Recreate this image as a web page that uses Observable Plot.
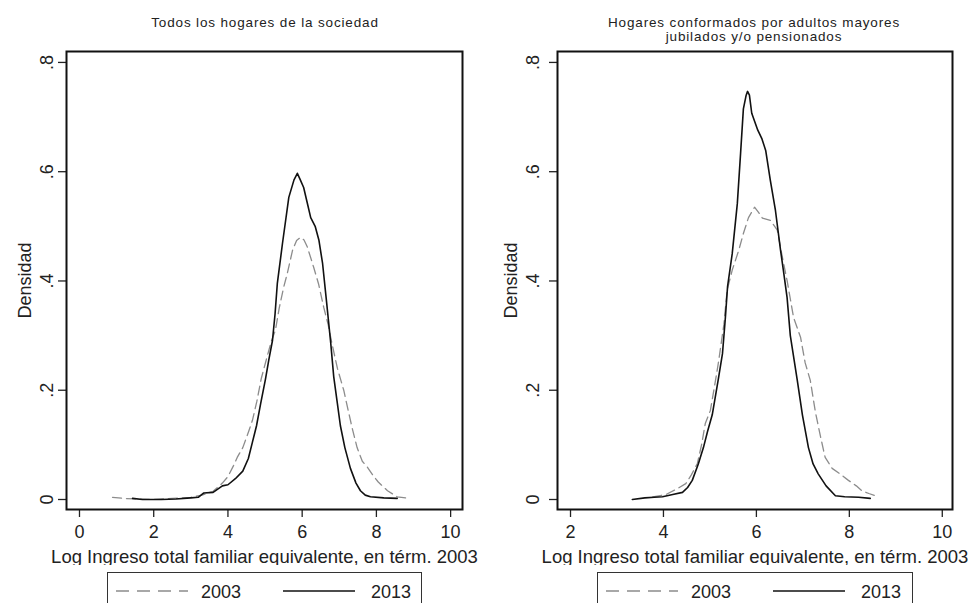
<!DOCTYPE html>
<html><head><meta charset="utf-8">
<script src="https://cdn.jsdelivr.net/npm/d3@7"></script>
<script src="https://cdn.jsdelivr.net/npm/@observablehq/plot@0.6"></script>
<style>
body{margin:0;background:#fff;font-family:"Liberation Sans",Arial,sans-serif;}
#wrap{position:relative;width:970px;height:603px;overflow:hidden;background:#fff}
.title{position:absolute;top:16px;text-align:center;font-size:13.5px;letter-spacing:0.85px;line-height:14px;color:#222;white-space:nowrap}
.panel{position:absolute;top:40px}
.legend{position:absolute;top:572px;height:44px;border:1.5px solid #333;box-sizing:border-box;background:#fff}
.legend svg{position:absolute;left:0;top:0}
</style></head><body><div id="wrap"></div>
<script>
const years = ["2003", "2013"];
const yTicks = [0, 0.2, 0.4, 0.6, 0.8];
const xTicksLeft = [0, 2, 4, 6, 8, 10];
const xTicksRight = [2, 4, 6, 8, 10];
const titleLeft = "Todos los hogares de la sociedad";
const titleRight = ["Hogares conformados por adultos mayores", "jubilados y/o pensionados"];
const xLabel = "Log Ingreso total familiar equivalente, en térm. 2003";
const yLabel = "Densidad";

const left2013 = [[1.43,0.002],[1.7,0.0],[2.2,0.0],[2.6,0.001],[3.0,0.003],[3.2,0.004],[3.35,0.012],[3.6,0.013],[3.85,0.025],[4.0,0.027],[4.2,0.038],[4.4,0.052],[4.55,0.075],[4.66,0.105],[4.77,0.135],[4.88,0.175],[5.01,0.22],[5.1,0.255],[5.2,0.291],[5.27,0.34],[5.33,0.395],[5.47,0.469],[5.64,0.553],[5.78,0.585],[5.87,0.597],[5.95,0.585],[6.04,0.571],[6.13,0.545],[6.23,0.516],[6.35,0.5],[6.45,0.475],[6.55,0.432],[6.66,0.36],[6.77,0.286],[6.85,0.225],[6.94,0.18],[7.03,0.135],[7.15,0.095],[7.3,0.057],[7.45,0.03],[7.57,0.016],[7.7,0.008],[7.84,0.005],[8.2,0.003],[8.56,0.002]];
const left2003 = [[0.89,0.004],[1.2,0.002],[1.5,0.001],[2.0,0.0],[2.5,0.002],[3.0,0.004],[3.3,0.008],[3.6,0.015],[3.85,0.03],[4.0,0.042],[4.15,0.062],[4.25,0.077],[4.4,0.095],[4.56,0.125],[4.66,0.145],[4.78,0.18],[4.9,0.222],[5.05,0.26],[5.17,0.29],[5.28,0.31],[5.38,0.35],[5.5,0.388],[5.6,0.414],[5.74,0.456],[5.85,0.474],[5.96,0.48],[6.05,0.475],[6.14,0.462],[6.31,0.425],[6.44,0.395],[6.58,0.352],[6.7,0.32],[6.81,0.283],[6.95,0.24],[7.12,0.2],[7.26,0.157],[7.35,0.13],[7.48,0.095],[7.62,0.07],[7.76,0.059],[7.9,0.045],[8.05,0.032],[8.3,0.016],[8.56,0.005],[8.87,0.002]];
const right2013 = [[3.33,0.0],[3.6,0.003],[3.8,0.004],[3.98,0.005],[4.2,0.009],[4.41,0.013],[4.52,0.022],[4.62,0.035],[4.75,0.065],[4.86,0.095],[4.95,0.125],[5.05,0.155],[5.18,0.22],[5.27,0.267],[5.33,0.33],[5.38,0.39],[5.48,0.45],[5.59,0.542],[5.66,0.634],[5.72,0.715],[5.78,0.74],[5.81,0.747],[5.85,0.74],[5.9,0.707],[6.03,0.676],[6.12,0.66],[6.2,0.639],[6.3,0.584],[6.41,0.529],[6.52,0.456],[6.58,0.42],[6.66,0.37],[6.73,0.3],[6.88,0.218],[6.99,0.155],[7.12,0.095],[7.22,0.065],[7.33,0.047],[7.5,0.025],[7.7,0.007],[7.9,0.005],[8.2,0.004],[8.45,0.002]];
const right2003 = [[3.77,0.005],[4.05,0.009],[4.3,0.02],[4.48,0.029],[4.6,0.045],[4.73,0.066],[4.82,0.1],[4.9,0.139],[5.01,0.163],[5.12,0.218],[5.18,0.249],[5.3,0.32],[5.37,0.383],[5.48,0.42],[5.62,0.456],[5.72,0.487],[5.83,0.516],[5.96,0.535],[6.05,0.525],[6.13,0.515],[6.3,0.511],[6.45,0.493],[6.56,0.443],[6.66,0.401],[6.8,0.333],[6.95,0.297],[7.05,0.25],[7.16,0.218],[7.27,0.16],[7.38,0.115],[7.48,0.077],[7.63,0.057],[7.8,0.047],[7.98,0.035],[8.15,0.025],[8.27,0.016],[8.42,0.011],[8.56,0.007]];

const fmtY = d => d === 0 ? "0" : String(d).replace(/^0\./, ".");
const dash = {stroke: "#8c8c8c", strokeWidth: 1.3, strokeDasharray: "9,5"};
const solid = {stroke: "#111", strokeWidth: 1.6};
const wrap = document.getElementById("wrap");
const font = '"Liberation Sans", Arial, sans-serif';

function panel({left, marginLeft, marginRight, xDomain, xTicks, d2003, d2013, labelOffset, tickPad}) {
  const chart = Plot.plot({
    width: 485, height: 525,
    marginTop: 11, marginBottom: 56, marginLeft, marginRight,
    style: {fontFamily: font, fontSize: "18px", color: "#222", background: "transparent"},
    x: {domain: xDomain},
    y: {domain: [-0.0183, 0.82]},
    marks: [
      Plot.axisY(yTicks, {tickSize: 8, tickRotate: -90, tickPadding: tickPad, tickFormat: fmtY, fontSize: 18, strokeWidth: 1.3, label: null}),
      Plot.axisY({label: yLabel, labelAnchor: "center", labelArrow: "none", labelOffset, fontSize: 18, ticks: []}),
      Plot.axisX(xTicks, {tickSize: 8, tickPadding: 8, fontSize: 18, strokeWidth: 1.3, label: null}),
      Plot.axisX({label: xLabel, labelAnchor: "center", labelArrow: "none", labelOffset: 53, fontSize: 18.5, ticks: []}),
      Plot.line(d2003, {...dash}),
      Plot.line(d2013, {...solid}),
      Plot.frame({stroke: "#111", strokeWidth: 2})
    ]
  });
  const div = document.createElement("div");
  div.className = "panel";
  div.style.left = left + "px";
  div.appendChild(chart);
  wrap.appendChild(div);
}

panel({left: 0, marginLeft: 66, marginRight: 23, xDomain: [-0.35, 10.32], xTicks: xTicksLeft, d2003: left2003, d2013: left2013, labelOffset: 48, tickPad: 6});
panel({left: 485, marginLeft: 72, marginRight: 18, xDomain: [1.72, 10.22], xTicks: xTicksRight, d2003: right2003, d2013: right2013, labelOffset: 53, tickPad: 11});

function title(lines, cx) {
  const t = document.createElement("div");
  t.className = "title";
  t.style.left = (cx - 250) + "px";
  t.style.width = "500px";
  t.innerHTML = lines.join("<br>");
  wrap.appendChild(t);
}
title([titleLeft], 265);
title(titleRight, 754);

function legend(x0, w) {
  const box = document.createElement("div");
  box.className = "legend";
  box.style.left = x0 + "px";
  box.style.width = w + "px";
  const svg = d3.create("svg").attr("width", w).attr("height", 44)
    .style("font-family", font).style("font-size", "18px");
  const items = [
    {year: years[0], style: dash, lx: 8, tx: 93},
    {year: years[1], style: solid, lx: 175, tx: 263}
  ];
  for (const it of items) {
    svg.append("line").attr("x1", it.lx).attr("x2", it.lx + 72).attr("y1", 18).attr("y2", 18)
      .attr("stroke", it.style.stroke).attr("stroke-width", it.style.strokeWidth)
      .attr("stroke-dasharray", it.style.strokeDasharray ? "13,8" : null);
    svg.append("text").attr("x", it.tx).attr("y", 25).attr("fill", "#222").text(it.year);
  }
  box.appendChild(svg.node());
  wrap.appendChild(box);
}
legend(107, 315);
legend(597, 316);
</script></body></html>
